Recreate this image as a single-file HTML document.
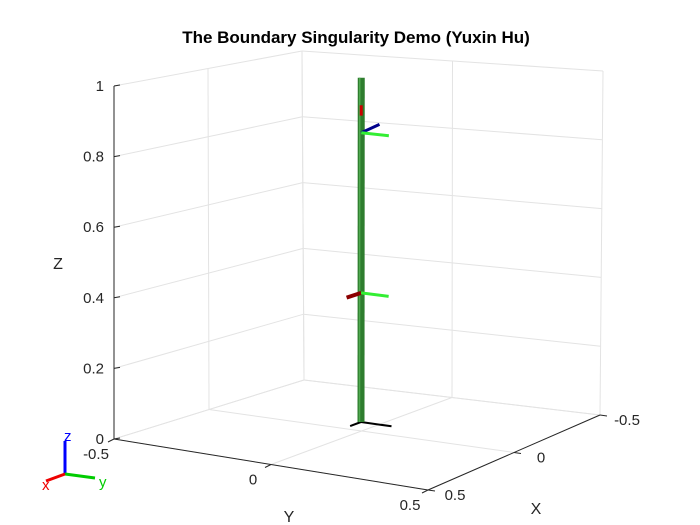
<!DOCTYPE html>
<html><head><meta charset="utf-8"><style>
body{margin:0;background:#fff}
svg{display:block;font-family:"Liberation Sans",Arial,sans-serif}
</style></head><body>
<svg id="c" width="700" height="525" viewBox="0 0 700 525">
<rect width="700" height="525" fill="#fff"/>
<text x="356" y="43" text-anchor="middle" font-size="17" font-weight="bold" fill="#000">The Boundary Singularity Demo (Yuxin Hu)</text>
<g id="grid"></g>
<g id="axes"></g>
<g id="robot"></g>
<g>
<line x1="65" y1="474" x2="65" y2="441" stroke="#00f" stroke-width="3"/>
<line x1="65" y1="474" x2="95" y2="478" stroke="#0c0" stroke-width="3"/>
<line x1="65" y1="474" x2="46" y2="481" stroke="#e00" stroke-width="3"/>
<text x="64" y="441" font-size="15" fill="#00f">z</text>
<text x="99" y="487" font-size="15" fill="#0c0">y</text>
<text x="42" y="490" font-size="15" fill="#e00">x</text>
</g>
</svg>
<script>
const zTicks=[0,0.2,0.4,0.6,0.8,1];
const zTickLabels=["0","0.2","0.4","0.6","0.8","1"];
const yTicks=[-0.5,0,0.5];
const yTickLabels=["-0.5","0","0.5"];
const xTicks=[-0.5,0,0.5];
const xTickLabels=["-0.5","0","0.5"];
const jointZ=[0.375,0.84];
const poleTop=1.0;

const C={
 "0.5,-0.5,0":[114,439],"0.5,-0.5,1":[114,86],
 "0.5,0.5,0":[428,490],"0.5,0.5,1":[428,128],
 "-0.5,0.5,0":[600,415],"-0.5,0.5,1":[603,71],
 "-0.5,-0.5,0":[304,380],"-0.5,-0.5,1":[302,51]};
function P(x,y,z){
 const u=x+0.5,v=y+0.5;let px=0,py=0;
 for(const X of [-0.5,0.5])for(const Y of [-0.5,0.5])for(const Z of [0,1]){
  const w=(X>0?u:1-u)*(Y>0?v:1-v)*(Z>0?z:1-z);
  const c=C[X+","+Y+","+Z];px+=w*c[0];py+=w*c[1];}
 return [px,py];}
const NS="http://www.w3.org/2000/svg";
function line(g,a,b,st,sw,name){const l=document.createElementNS(NS,"line");
 l.setAttribute("x1",a[0]);l.setAttribute("y1",a[1]);l.setAttribute("x2",b[0]);l.setAttribute("y2",b[1]);
 l.setAttribute("stroke",st);l.setAttribute("stroke-width",sw);l.setAttribute("stroke-linecap","butt");
 
 
 document.getElementById(g).appendChild(l);return l;}
function text(g,p,s,anchor,name,fs){const t=document.createElementNS(NS,"text");
 t.setAttribute("x",p[0]);t.setAttribute("y",p[1]);t.setAttribute("text-anchor",anchor);
 t.setAttribute("font-size",fs||15);t.setAttribute("fill","#262626");t.textContent=s;
 
 
 document.getElementById(g).appendChild(t);}
const gc="#e3e3e3";
zTicks.forEach(z=>{
 line("grid",P(0.5,-0.5,z),P(-0.5,-0.5,z),gc,1,"z-gridline-left-wall");
 line("grid",P(-0.5,-0.5,z),P(-0.5,0.5,z),gc,1,"z-gridline-right-wall");});
yTicks.forEach(y=>{
 line("grid",P(-0.5,y,0),P(-0.5,y,1),gc,1,"y-gridline-wall");
 line("grid",P(-0.5,y,0),P(0.5,y,0),gc,1,"y-gridline-floor");});
xTicks.forEach(x=>{
 line("grid",P(x,-0.5,0),P(x,-0.5,1),gc,1,"x-gridline-wall");
 line("grid",P(x,-0.5,0),P(x,0.5,0),gc,1,"x-gridline-floor");});
const ac="#262626";
line("axes",P(0.5,-0.5,0),P(0.5,-0.5,1),ac,1,"z-axis-line");
line("axes",P(0.5,-0.5,0),P(0.5,0.5,0),ac,1,"y-axis-line");
line("axes",P(0.5,0.5,0),P(-0.5,0.5,0),ac,1,"x-axis-line");
zTicks.forEach((z,i)=>{const p=P(0.5,-0.5,z);
 line("axes",p,[p[0]+6,p[1]-1],ac,1,"z-tick");
 text("axes",[p[0]-10,p[1]+5],zTickLabels[i],"end","z-tick-label");});
yTicks.forEach((y,i)=>{const p=P(0.5,y,0);
 line("axes",p,[p[0]-6,p[1]+3],ac,1,"y-tick");
 text("axes",[p[0]-18,p[1]+20],yTickLabels[i],"middle","y-tick-label");});
xTicks.forEach((x,i)=>{const p=P(x,0.5,0);
 line("axes",p,[p[0]+7,p[1]+1],ac,1,"x-tick");
 text("axes",[p[0]+27,p[1]+10],xTickLabels[i],"middle","x-tick-label");});
text("axes",[289,522],"Y","middle","y-axis-title",16);
text("axes",[536,514],"X","middle","x-axis-title",16);
text("axes",[58,269],"Z","middle","z-axis-title",16);
const off=[-0.5,-9];
function R(x,y,z){const p=P(x,y,z);return [p[0]+off[0],p[1]+off[1]*(1-z*0.3)];}
line("robot",R(0,0,0),R(0.06,0,0),"#000",2,"base-x-axis");
line("robot",R(0,0,0),R(0,0.1,0),"#000",2,"base-y-axis");
line("robot",R(0,0,0),R(0,0,poleTop),"#2e7d2e",7,"link-pole");
line("robot",(p=>[p[0]-1.5,p[1]])(R(0,0,0)),(p=>[p[0]-1.5,p[1]])(R(0,0,poleTop)),"#4fa84f",1.5,"link-highlight");
const j1=R(0,0,jointZ[0]);
line("robot",j1,R(0.08,0,jointZ[0]),"#8b0000",4,"joint1-x-axis");
line("robot",j1,R(0,0.09,jointZ[0]),"#33ee33",3,"joint1-y-axis");
const j2=R(0,0,jointZ[1]);
line("robot",j2,R(-0.05,0.03,jointZ[1]+0.02),"#00008b",3,"joint2-z-axis");
line("robot",j2,R(0,0.09,jointZ[1]),"#33ee33",3,"joint2-y-axis");
line("robot",R(0,0,jointZ[1]+0.05),R(0,0,jointZ[1]+0.08),"#cc0000",3,"joint2-x-axis");
</script>
</body></html>
